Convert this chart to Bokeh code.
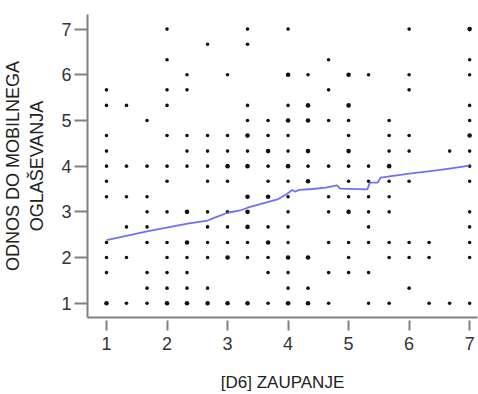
from bokeh.plotting import figure
from bokeh.models import Range1d, FixedTicker, ColumnDataSource
from bokeh.embed import file_html
from bokeh.resources import INLINE

# ---- data: scatter cells (x = [D6] ZAUPANJE, y = ODNOS DO MOBILNEGA OGLAŠEVANJA, n = relative weight)
pt_x = [
    1, 1.33, 1.67, 2, 2.33, 2.67, 3, 3.33, 3.67, 4, 4.33, 4.67, 5.33, 5.67, 6.33, 6.67, 7,   # y=1
    1.67, 2, 2.33, 2.67, 4, 4.33, 6,                                                       # y=1.33
    1, 1.67, 2, 2.33, 3.67, 4, 4.67, 5, 5.33,                                              # y=1.67
    1, 1.33, 2, 2.33, 2.67, 3, 3.33, 3.67, 4, 4.33, 5, 5.67, 6, 6.33, 7,                   # y=2
    1, 1.67, 2, 2.33, 2.67, 3, 3.33, 3.67, 4, 4.67, 5, 5.33, 5.67, 6, 6.33, 7,             # y=2.33
    1.33, 1.67, 2.67, 3, 3.33, 3.67, 4, 5.33, 7,                                           # y=2.67
    1.67, 2, 2.33, 2.67, 3, 3.33, 4, 4.67, 5, 5.33, 5.67, 7,                               # y=3
    1, 1.33, 1.67, 3.33, 3.67, 4, 4.67, 5, 5.33, 5.67,                                     # y=3.33
    1, 2, 2.67, 3, 3.67, 4, 4.33, 5, 5.33, 5.67, 6, 7,                                     # y=3.67
    1, 1.33, 1.67, 2, 2.33, 2.67, 3, 3.33, 3.67, 4, 4.33, 4.67, 5, 5.33, 5.67, 7,          # y=4
    1, 2.33, 2.67, 3, 3.33, 3.67, 4, 4.33, 5, 5.67, 6, 6.67, 7,                            # y=4.33
    1, 2, 2.33, 2.67, 3, 3.33, 3.67, 4, 5, 5.67, 6, 7,                                     # y=4.67
    1.67, 3.33, 3.67, 4, 4.33, 4.67, 5, 5.67, 7,                                           # y=5
    1, 1.33, 2, 3.33, 4, 4.33, 5, 7,                                                       # y=5.33
    1, 2, 2.33, 4.67, 6,                                                                   # y=5.67
    2.33, 3, 4, 4.33, 5, 5.33, 6, 7,                                                       # y=6
    2, 4.67, 7,                                                                            # y=6.33
    2.67, 3.33,                                                                            # y=6.67
    2, 3.33, 4, 6, 7,                                                                      # y=7
]
pt_y = (
    [1] * 17 + [1.33] * 7 + [1.67] * 9 + [2] * 15 + [2.33] * 16 + [2.67] * 9
    + [3] * 12 + [3.33] * 10 + [3.67] * 12 + [4] * 16 + [4.33] * 13 + [4.67] * 12
    + [5] * 9 + [5.33] * 8 + [5.67] * 5 + [6] * 8 + [6.33] * 3 + [6.67] * 2 + [7] * 5
)
pt_n = [
    2, 1, 1, 2, 2, 2, 2, 2, 1, 2, 2, 1, 1, 1, 1, 1, 1,
    1, 1, 1, 1, 1, 1, 1,
    1, 1, 1, 1, 1, 1, 1, 1, 1,
    1, 1, 1, 1, 1, 2, 1, 1, 2, 2, 1, 1, 1, 1, 1,
    1, 1, 1, 2, 1, 1, 1, 2, 1, 1, 1, 1, 1, 1, 1, 1,
    1, 1, 1, 1, 2, 1, 1, 1, 1,
    1, 1, 2, 1, 1, 2, 1, 1, 2, 1, 1, 1,
    1, 1, 1, 2, 2, 1, 1, 1, 1, 1,
    1, 1, 1, 1, 1, 1, 2, 1, 1, 1, 1, 1,
    1, 1, 1, 1, 1, 1, 2, 2, 1, 2, 1, 1, 1, 1, 2, 1,
    1, 1, 1, 1, 1, 2, 1, 2, 2, 1, 1, 1, 1,
    1, 1, 1, 1, 1, 2, 1, 1, 1, 1, 1, 2,
    1, 1, 1, 2, 2, 1, 1, 1, 1,
    1, 1, 1, 1, 1, 2, 2, 1,
    1, 1, 1, 1, 1,
    1, 1, 2, 1, 2, 1, 1, 1,
    1, 1, 1,
    1, 1,
    1, 1, 1, 1, 2,
]

# ---- fit line (loess)
fit_x = [1.0, 1.67, 2.34, 2.67, 2.80, 3.0, 3.21, 3.33, 3.63, 3.84, 3.98, 4.07, 4.12,
         4.18, 4.40, 4.62, 4.81, 4.86, 5.31, 5.35, 5.48, 5.53, 5.97, 6.52, 7.0]
fit_y = [2.38, 2.57, 2.74, 2.81, 2.88, 2.98, 3.03, 3.09, 3.20, 3.28, 3.39, 3.48, 3.44,
         3.48, 3.50, 3.53, 3.58, 3.51, 3.49, 3.64, 3.64, 3.75, 3.83, 3.92, 4.01]

ticks = [1, 2, 3, 4, 5, 6, 7]
x_title = "[D6] ZAUPANJE"
y_title = "ODNOS DO MOBILNEGA\nOGLAŠEVANJA"

sizes = [3.6 if n == 1 else 4.6 for n in pt_n]
src = ColumnDataSource(dict(x=pt_x, y=pt_y, s=sizes))

p = figure(width=478, height=394, output_backend="svg", toolbar_location=None,
           x_range=Range1d(0.686, 7.13), y_range=Range1d(0.687, 7.32),
           min_border_left=87, min_border_right=1, min_border_top=14, min_border_bottom=77)
p.outline_line_color = None
p.xgrid.visible = False
p.ygrid.visible = False
p.background_fill_color = "white"
p.border_fill_color = "white"

p.scatter("x", "y", size="s", source=src, marker="circle", fill_color="#111111",
          line_color=None)
p.line(fit_x, fit_y, line_color="#6060f4", line_width=1.8, line_alpha=0.9)

axis_col = "#808080"
for ax in (p.xaxis[0], p.yaxis[0]):
    ax.ticker = FixedTicker(ticks=ticks)
    ax.axis_line_color = axis_col
    ax.axis_line_width = 2
    ax.major_tick_line_color = axis_col
    ax.major_tick_line_width = 2
    ax.minor_tick_line_color = None
    ax.major_label_text_font = "Liberation Sans"
    ax.major_label_text_font_size = "18px"
    ax.major_label_text_color = "#333333"
    ax.axis_label_text_font = "Liberation Sans"
    ax.axis_label_text_font_style = "normal"
    ax.axis_label_text_color = "#222222"

p.yaxis[0].major_tick_in = 0
p.yaxis[0].major_tick_out = 13
p.yaxis[0].major_label_standoff = 3
p.yaxis[0].axis_label = y_title
p.yaxis[0].axis_label_text_font_size = "18px"
p.yaxis[0].axis_label_standoff = 11

p.xaxis[0].major_tick_in = -3
p.xaxis[0].major_tick_out = 13
p.xaxis[0].major_label_standoff = 6
p.xaxis[0].axis_label = x_title
p.xaxis[0].axis_label_text_font_size = "17px"
p.xaxis[0].axis_label_standoff = 20

open("out.html", "w").write(file_html(p, INLINE))
